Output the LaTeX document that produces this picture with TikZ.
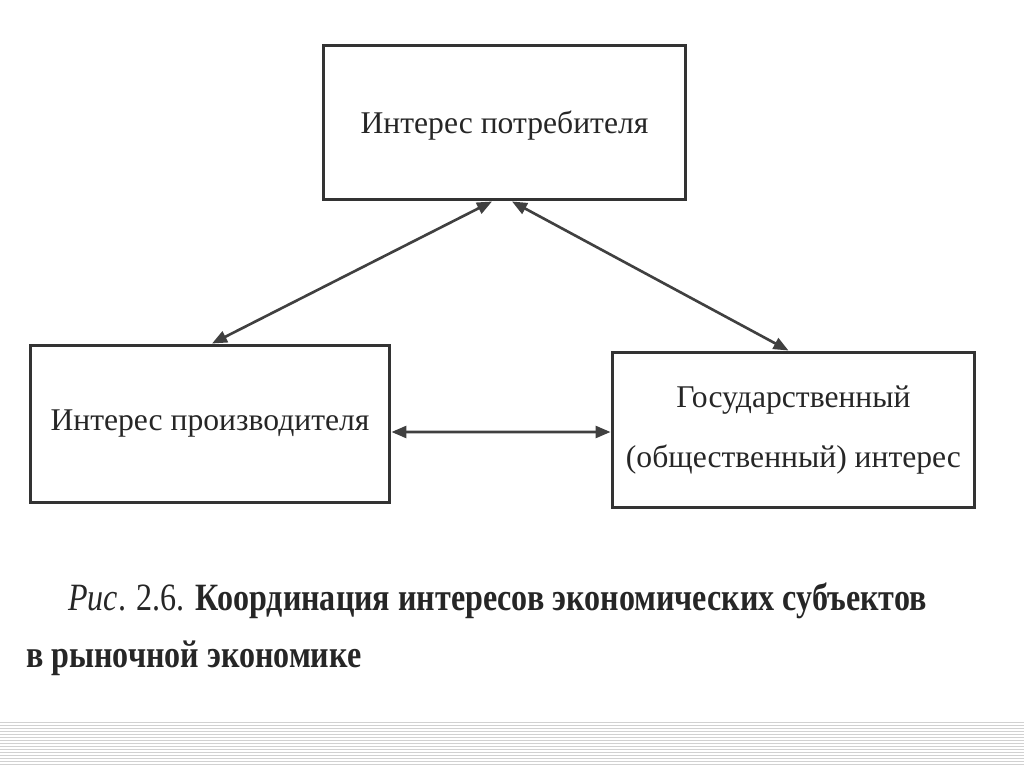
\documentclass[tikz,border=0pt]{standalone}
\usepackage{fontspec}
\setmainfont{Liberation Serif}
\newfontfamily\capfont[FakeStretch=0.83]{Liberation Serif}
\usetikzlibrary{arrows.meta,positioning}

\begin{document}
\begin{tikzpicture}[x=0.02cm,y=-0.02cm,
  box/.style={draw=black!80,line width=1.7pt,align=center,inner sep=0pt,
    font=\fontsize{18}{34}\selectfont,text=black!85},
  link/.style={draw=black!75,line width=1.5pt,{Triangle[length=3mm,width=2.4mm]}-{Triangle[length=3mm,width=2.4mm]}}]
	 \useasboundingbox (0,0) rectangle (1024,767);
	 \node at (504.5,122.5) [box,minimum width=7.26cm,minimum height=3.1cm,text depth=-0.1cm] (consumer) {Интерес потребителя};
	 \node at (210,424) [box,minimum width=7.2cm,minimum height=3.16cm] (producer) {Интерес производителя};
	 \node at (793.5,430) [box,minimum width=7.26cm,minimum height=3.12cm] (state) {Государственный\\(общественный) интерес};

	 \draw[link] ([xshift=-0.25cm]consumer.south) -- ([xshift=0.04cm]producer.north);
	 \draw[link] ([xshift=0.15cm]consumer.south) -- ([xshift=-0.1cm]state.north);
	 \draw[link] ([yshift=-0.16cm]producer.east) -- ([yshift=-0.04cm]state.west);

	 \node at (20,667) [anchor=base west,font=\capfont\fontsize{22}{32}\selectfont,text=black!85,align=left] (caption)
	   {\hspace*{0.84cm}\textit{Рис}. 2.6. \textbf{Координация интересов экономических субъектов}\\\textbf{в рыночной экономике}};

	 % striped band at the bottom
	 \foreach \y in {722,725,...,767}
	   \draw[black!18,line width=0.4pt] (0,\y) -- (1024,\y);
\end{tikzpicture}
\end{document}
